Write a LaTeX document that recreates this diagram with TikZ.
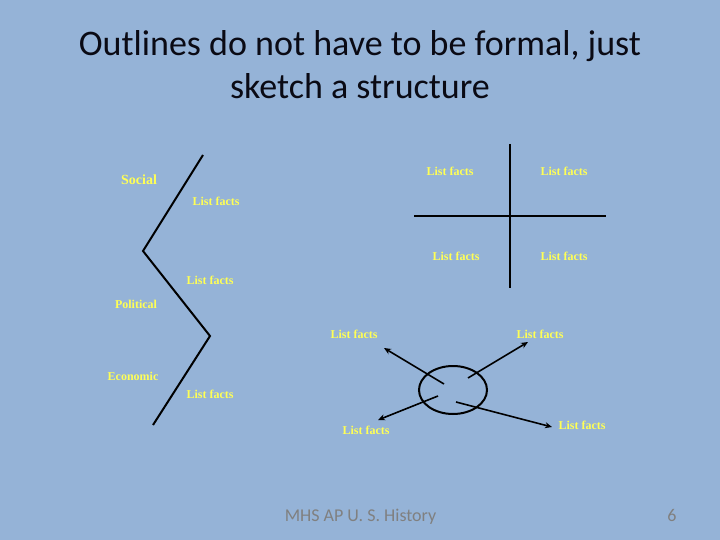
\documentclass[tikz,border=0pt]{standalone}
\usepackage{fontspec}
\setmainfont{Liberation Serif}
\newfontfamily\calibri{Carlito}
\usetikzlibrary{arrows.meta,shapes.geometric}
\definecolor{bgblue}{HTML}{95B3D7}
\definecolor{labyellow}{HTML}{FFFF55}
\definecolor{footgray}{HTML}{808080}
\definecolor{titleink}{HTML}{0A0A14}
\tikzset{
  lab/.style={text=labyellow, font=\bfseries\fontsize{12}{14}\selectfont, inner sep=0pt, anchor=base},
  ink/.style={draw=black, line width=2pt},
  arr/.style={draw=black, line width=1.6pt, -{Stealth[length=7pt,width=6pt]}},
  title/.style={text=titleink, font=\calibri\fontsize{36}{42}\selectfont, inner sep=0pt, anchor=base},
  foot/.style={text=footgray, font=\calibri\fontsize{18}{21}\selectfont, inner sep=0pt, anchor=base}
}
\begin{document}
\begin{tikzpicture}[x=1pt,y=-1pt]
\fill[bgblue] (0,0) rectangle (720,540);
\useasboundingbox (0,0) rectangle (720,540);
% title
\node[title] (t1) at (360,56) {Outlines do not have to be formal, just};
\node[title] (t2) at (360,99) {sketch a structure};
% chevron
\coordinate (c1) at (203,155);
\coordinate (c2) at (143,251);
\coordinate (c3) at (210,336);
\coordinate (c4) at (153,425);
\draw[ink] (c1) -- (c2) -- (c3) -- (c4);
% left labels
\node[lab, font=\bfseries\fontsize{14}{16}\selectfont] (social) at (139,185) {Social};
\node[lab] (l1) at (216,206) {List facts};
\node[lab] (l2) at (210,284) {List facts};
\node[lab] (pol) at (136,308) {Political};
\node[lab] (eco) at (133,380) {Economic};
\node[lab] (l3) at (210,398) {List facts};
% cross
\coordinate (vt) at (510,144);
\coordinate (vb) at (510,288);
\coordinate (hl) at (414,216);
\coordinate (hr) at (606,216);
\draw[ink] (vt) -- (vb);
\draw[ink] (hl) -- (hr);
\node[lab] (q1) at (450,176) {List facts};
\node[lab] (q2) at (564,176) {List facts};
\node[lab] (q3) at (456,260) {List facts};
\node[lab] (q4) at (564,260) {List facts};
% ellipse and arrows
\node[ink, ellipse, minimum width=68pt, minimum height=48pt, inner sep=0pt] (ell) at (453,390) {};
\node[lab] (a1) at (354,338) {List facts};
\node[lab] (a2) at (540,338) {List facts};
\node[lab] (a3) at (366,434) {List facts};
\node[lab] (a4) at (582,429) {List facts};
\coordinate (s1) at (444,384); \coordinate (e1) at (384,348);
\coordinate (s2) at (468,378); \coordinate (e2) at (528,342);
\coordinate (s3) at (438,396); \coordinate (e3) at (378,420);
\coordinate (s4) at (456,402); \coordinate (e4) at (552,427);
\draw[arr] (s1) -- (e1);
\draw[arr] (s2) -- (e2);
\draw[arr] (s3) -- (e3);
\draw[arr] (s4) -- (e4);
% footer
\node[foot] (f1) at (360.5,521) {MHS AP U. S. History};
\node[foot] (f2) at (672,521) {6};
\end{tikzpicture}
\end{document}
